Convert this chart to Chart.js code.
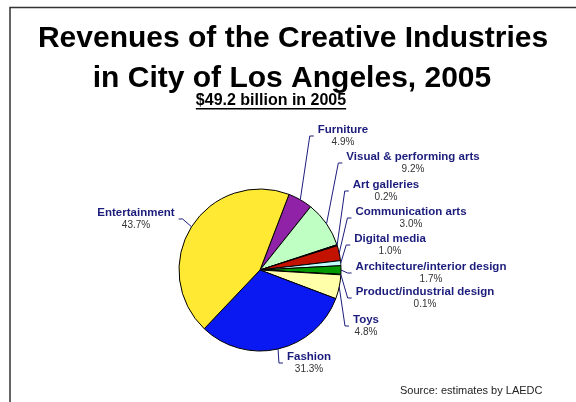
<!DOCTYPE html>
<html>
<head>
<meta charset="utf-8">
<style>
  html, body { margin: 0; padding: 0; background: #fff; }
</style>
</head>
<body>
<canvas id="revChart" width="576" height="402"></canvas>

<script src="https://cdn.jsdelivr.net/npm/chart.js"></script>
<script>
  // revenue share by sector, clockwise from just right of the top
  const sectors = ['Furniture', 'Visual & performing arts', 'Art galleries', 'Communication arts',
    'Digital media', 'Architecture/interior design', 'Product/industrial design', 'Toys',
    'Fashion', 'Entertainment'];
  const shares = [4.9, 9.2, 0.2, 3.0, 1.0, 1.7, 0.1, 4.8, 31.3, 43.7];
  const sliceColors = ['#9022a8', '#bfffc4', '#333399', '#c41200', '#bfffff', '#009a00',
    '#222222', '#ffffaa', '#0a18f2', '#ffe933'];

  // callout placement relative to the pie centre: [text centre x, name line y, side]
  const calloutSpots = [
    [83, -140, 1], [153, -113, 1], [126, -85, 1], [151, -58, 1], [130, -31, 1],
    [171, -3, 1], [165, 22, 1], [106, 50, 1], [49, 87, 1], [-124, -57, -1]
  ];

  const FONT = '"Liberation Sans", Arial, sans-serif';

  // outer frame, headline, subheading and source note
  const headings = {
    id: 'headings',
    beforeDraw(chart) {
      const c = chart.ctx;
      c.save();
      c.strokeStyle = '#333';
      c.lineWidth = 1.5;
      c.beginPath();
      c.moveTo(10, 402);
      c.lineTo(10, 7.5);
      c.lineTo(576, 7.5);
      c.stroke();

      c.fillStyle = '#000';
      c.textAlign = 'center';
      c.textBaseline = 'middle';
      c.font = 'bold 30px ' + FONT;
      c.fillText('Revenues of the Creative Industries', 293, 39);
      c.fillText('in City of Los Angeles, 2005', 292, 79);

      c.font = 'bold 16px ' + FONT;
      const sub = '$49.2 billion in 2005';
      c.fillText(sub, 271, 101);
      const sw = c.measureText(sub).width;
      c.fillRect(271 - sw / 2, 108, sw, 1.5);

      c.font = '11px ' + FONT;
      c.fillStyle = '#222';
      c.textAlign = 'left';
      c.fillText('Source: estimates by LAEDC', 400, 391);
      c.restore();
    }
  };

  // category name + percentage with a leader line back to each slice
  const callouts = {
    id: 'callouts',
    afterDraw(chart) {
      const c = chart.ctx;
      const arcs = chart.getDatasetMeta(0).data;
      c.save();
      arcs.forEach((arc, i) => {
        const [dx, dy, side] = calloutSpots[i];
        const cx = arc.x + dx;
        const y = arc.y + dy;
        const mid = (arc.startAngle + arc.endAngle) / 2;
        const ex = arc.x + Math.cos(mid) * arc.outerRadius;
        const ey = arc.y + Math.sin(mid) * arc.outerRadius;
        const pct = shares[i].toFixed(1) + '%';

        c.font = 'bold 11.5px ' + FONT;
        const w1 = c.measureText(sectors[i]).width;
        c.font = '10px ' + FONT;
        const w2 = c.measureText(pct).width;
        const half = Math.max(w1, w2) / 2;
        const my = y + 6;
        const tip = side < 0 ? cx + half + 4 : cx - half - 4;
        const knee = side < 0 ? tip + 4 : tip - 4;

        c.strokeStyle = '#1c1c7c';
        c.lineWidth = 1;
        c.beginPath();
        c.moveTo(ex, ey);
        c.lineTo(knee, my);
        c.lineTo(tip, my);
        c.stroke();

        c.textAlign = 'center';
        c.textBaseline = 'middle';
        c.fillStyle = '#1c1c7c';
        c.font = 'bold 11.5px ' + FONT;
        c.fillText(sectors[i], cx, y);
        c.fillStyle = '#333';
        c.font = '10px ' + FONT;
        c.fillText(pct, cx, y + 12.5);
      });
      c.restore();
    }
  };

  const ctx = document.getElementById('revChart').getContext('2d');
  new Chart(ctx, {
    type: 'pie',
    data: {
      labels: sectors,
      datasets: [{
        data: shares,
        backgroundColor: sliceColors,
        borderColor: '#000',
        borderWidth: 1,
        radius: 81
      }]
    },
    options: {
      responsive: false,
      animation: false,
      events: [],
      rotation: 21,
      layout: { padding: { left: 100, right: 156, top: 180, bottom: 42 } },
      plugins: {
        legend: { display: false },
        tooltip: { enabled: false }
      }
    },
    plugins: [headings, callouts]
  });
</script>
</body>
</html>
